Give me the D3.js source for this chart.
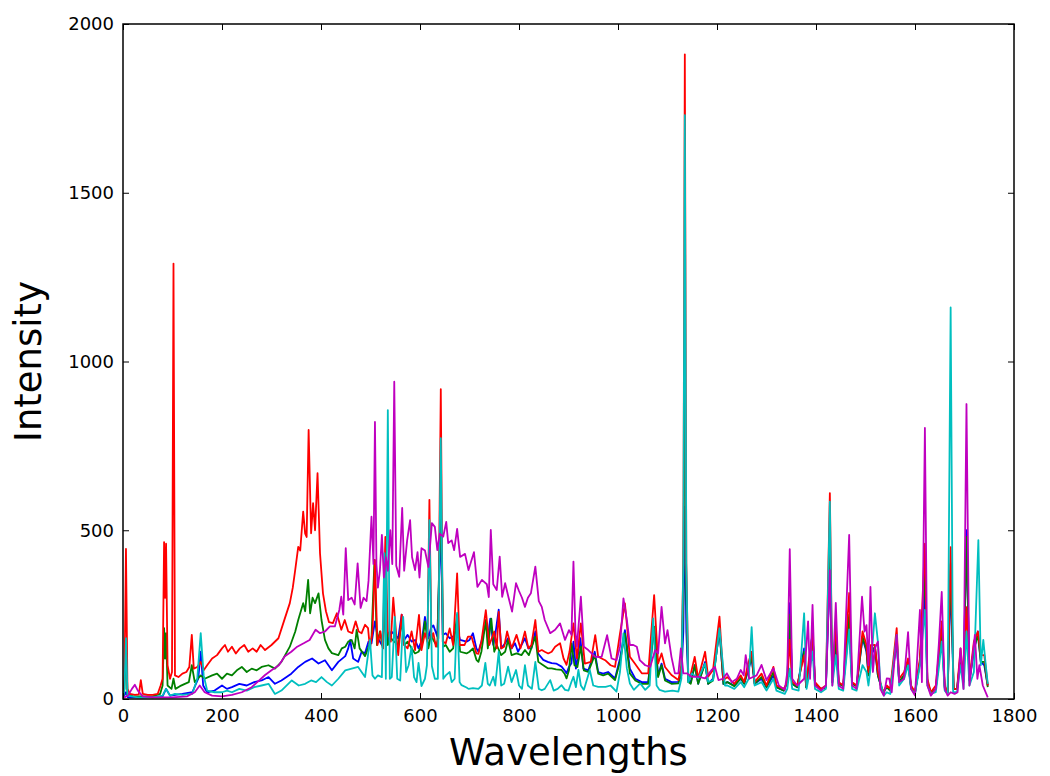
<!DOCTYPE html>
<html>
<head>
<meta charset="utf-8">
<script src="https://cdn.jsdelivr.net/npm/d3@7"></script>
<style>
  body { margin: 0; background: #fff; }
  text { font-family: "DejaVu Sans", sans-serif; }
</style>
</head>
<body>
<svg class="chart"></svg>
<script>
// tick values
var wavelengthTicks = [0, 200, 400, 600, 800, 1000, 1200, 1400, 1600, 1800];
var intensityTicks = [0, 500, 1000, 1500, 2000];

// spectra, [wavelength, intensity]
var blueSpectrum = [[0,3],[6,20],[10,5],[40,5],[80,8],[87,30],[95,10],[120,15],[140,20],[152,60],[157,140],[162,40],[170,20],[185,25],[200,40],[210,30],[220,35],[235,45],[250,40],[265,50],[280,55],[294,65],[307,45],[320,55],[340,75],[354,95],[368,110],[382,120],[395,105],[408,115],[422,85],[435,110],[449,127],[455,150],[459,175],[465,120],[475,110],[482,140],[489,136],[496,170],[502,165],[509,230],[515,180],[523,160],[530,250],[536,170],[542,200],[549,190],[556,180],[563,250],[568,175],[575,190],[583,170],[590,175],[597,150],[604,175],[610,243],[617,180],[622,210],[627,218],[635,185],[642,520],[646,190],[652,195],[660,180],[667,185],[675,210],[681,175],[694,170],[700,175],[707,195],[714,150],[718,140],[724,170],[733,224],[737,180],[742,238],[748,160],[752,190],[759,265],[764,150],[772,165],[778,180],[785,150],[792,165],[798,140],[805,160],[812,180],[819,150],[825,150],[833,200],[839,134],[849,116],[858,110],[866,106],[875,105],[886,96],[892,85],[896,76],[901,95],[906,106],[910,170],[915,90],[924,180],[930,90],[940,85],[953,140],[960,80],[970,75],[980,80],[994,61],[1004,120],[1014,204],[1024,90],[1035,60],[1048,50],[1061,50],[1073,214],[1081,70],[1088,105],[1095,60],[1108,50],[1122,51],[1128,70],[1132,200],[1135,570],[1138,200],[1142,55],[1147,50],[1155,100],[1162,45],[1176,110],[1182,45],[1192,60],[1205,205],[1213,45],[1221,50],[1235,40],[1248,60],[1255,45],[1262,80],[1270,120],[1276,45],[1290,60],[1300,35],[1314,70],[1320,35],[1335,25],[1342,50],[1347,284],[1352,45],[1362,35],[1376,150],[1380,35],[1386,100],[1393,200],[1398,45],[1410,30],[1420,35],[1428,380],[1433,50],[1440,170],[1446,45],[1455,40],[1467,220],[1473,45],[1482,40],[1494,180],[1502,140],[1506,70],[1511,130],[1519,150],[1525,70],[1535,20],[1543,35],[1550,25],[1563,170],[1568,50],[1578,70],[1586,110],[1592,35],[1600,20],[1610,110],[1620,320],[1625,50],[1632,20],[1642,30],[1648,110],[1654,200],[1660,35],[1666,20],[1672,350],[1678,30],[1685,30],[1692,120],[1698,50],[1704,500],[1710,55],[1719,140],[1727,200],[1733,110],[1740,100],[1747,40]];

var greenSpectrum = [[0,5],[3,30],[6,180],[9,15],[20,8],[40,8],[60,8],[75,15],[80,40],[83,210],[85,120],[87,195],[90,40],[98,30],[102,60],[106,30],[115,38],[125,45],[133,50],[139,100],[145,50],[157,70],[165,60],[180,70],[190,75],[200,60],[210,75],[220,70],[230,85],[240,95],[250,80],[260,90],[270,85],[280,95],[294,100],[307,90],[320,110],[337,155],[348,200],[354,234],[364,284],[368,260],[374,353],[378,254],[383,300],[388,284],[395,313],[401,234],[408,175],[415,150],[422,136],[435,130],[442,150],[449,155],[455,170],[462,175],[468,150],[472,205],[478,150],[489,127],[495,150],[502,180],[508,412],[513,160],[519,200],[525,150],[530,300],[535,160],[541,180],[548,170],[556,160],[563,230],[568,160],[575,170],[583,150],[590,135],[597,140],[604,160],[610,230],[617,150],[622,190],[627,175],[635,155],[642,600],[647,155],[652,160],[660,140],[667,150],[675,250],[681,140],[694,135],[700,140],[707,150],[714,116],[718,110],[724,140],[733,234],[737,150],[744,238],[750,140],[755,160],[764,130],[772,140],[778,175],[785,130],[795,135],[805,130],[812,145],[820,130],[833,185],[839,110],[849,100],[858,91],[866,91],[875,88],[886,86],[892,75],[896,61],[901,85],[906,165],[912,100],[918,95],[925,155],[931,85],[940,80],[953,130],[960,75],[970,70],[980,75],[994,56],[1004,110],[1014,194],[1024,76],[1035,55],[1048,45],[1061,45],[1073,214],[1081,65],[1088,100],[1095,55],[1108,45],[1122,46],[1128,80],[1132,300],[1135,1080],[1138,300],[1142,50],[1147,45],[1155,100],[1162,45],[1176,105],[1182,45],[1192,55],[1205,209],[1213,45],[1221,50],[1235,38],[1248,62],[1255,45],[1262,85],[1270,125],[1276,45],[1290,65],[1300,35],[1314,80],[1320,35],[1335,25],[1342,50],[1347,250],[1352,45],[1362,35],[1376,140],[1380,35],[1386,105],[1393,195],[1398,45],[1410,28],[1420,35],[1428,450],[1433,50],[1440,180],[1446,45],[1455,38],[1467,250],[1473,45],[1482,38],[1494,185],[1502,145],[1506,70],[1511,140],[1519,155],[1525,70],[1535,18],[1543,35],[1550,25],[1563,180],[1568,50],[1578,70],[1586,110],[1592,35],[1600,18],[1610,110],[1620,380],[1625,50],[1632,18],[1642,30],[1648,115],[1654,210],[1660,35],[1666,18],[1672,400],[1678,30],[1685,30],[1692,130],[1698,50],[1704,480],[1710,55],[1719,150],[1727,190],[1733,110],[1740,110],[1747,35]];

var redSpectrum = [[0,10],[3,60],[6,445],[9,30],[14,15],[24,12],[32,14],[36,56],[40,15],[50,12],[60,12],[70,15],[76,40],[80,60],[83,465],[85,300],[87,460],[90,100],[95,60],[99,80],[102,1290],[105,70],[112,65],[120,75],[128,80],[134,95],[139,190],[143,90],[150,95],[157,110],[163,85],[170,100],[180,120],[190,130],[200,150],[206,160],[212,140],[220,155],[228,135],[236,150],[245,160],[253,140],[262,150],[270,140],[278,160],[287,145],[300,160],[314,180],[325,230],[337,284],[343,330],[348,383],[354,451],[358,440],[364,555],[368,490],[371,480],[375,797],[380,491],[384,580],[388,500],[393,669],[398,432],[404,313],[410,260],[416,228],[424,225],[432,254],[441,205],[448,234],[455,200],[463,195],[470,230],[476,200],[482,195],[489,220],[495,210],[499,150],[504,200],[509,412],[514,160],[520,200],[525,150],[530,480],[535,200],[541,170],[546,300],[552,190],[556,130],[563,250],[568,160],[575,150],[583,200],[590,145],[598,249],[603,145],[610,195],[615,170],[619,590],[623,180],[627,195],[632,155],[637,180],[642,918],[646,170],[652,165],[660,209],[667,160],[675,372],[680,160],[690,160],[697,185],[704,185],[714,135],[718,134],[724,170],[733,263],[740,160],[750,200],[755,150],[759,258],[764,150],[770,155],[776,200],[785,150],[795,190],[803,150],[812,200],[819,150],[825,160],[833,234],[839,140],[846,145],[852,140],[859,135],[866,140],[873,155],[883,165],[890,120],[896,101],[902,140],[910,224],[917,120],[925,224],[933,105],[945,110],[954,189],[960,125],[974,115],[985,100],[994,95],[1004,194],[1014,283],[1024,125],[1034,105],[1048,76],[1061,76],[1073,308],[1081,105],[1088,135],[1095,95],[1108,71],[1122,56],[1128,100],[1132,400],[1135,1910],[1138,400],[1142,70],[1145,61],[1155,125],[1162,61],[1176,140],[1182,66],[1192,86],[1205,244],[1213,56],[1221,65],[1235,45],[1248,70],[1255,50],[1262,100],[1270,140],[1276,50],[1290,75],[1300,40],[1314,95],[1320,40],[1335,30],[1342,50],[1347,175],[1352,50],[1362,40],[1376,130],[1380,40],[1386,120],[1393,190],[1398,50],[1410,30],[1420,40],[1428,610],[1433,60],[1440,220],[1446,50],[1455,40],[1467,314],[1473,50],[1482,40],[1494,200],[1502,160],[1506,80],[1511,160],[1519,160],[1525,80],[1535,20],[1543,40],[1550,30],[1563,210],[1568,60],[1578,80],[1586,120],[1592,40],[1600,20],[1610,120],[1620,460],[1625,60],[1632,20],[1642,40],[1648,130],[1654,230],[1660,40],[1666,20],[1672,450],[1678,30],[1685,30],[1692,150],[1698,60],[1704,272],[1710,60],[1719,170],[1727,200],[1733,130],[1740,130],[1747,40]];

var cyanSpectrum = [[0,3],[3,30],[6,180],[9,10],[30,5],[60,5],[80,10],[87,30],[95,10],[105,15],[120,12],[140,15],[150,60],[157,195],[163,70],[170,25],[185,20],[200,20],[210,25],[220,20],[235,30],[250,25],[265,35],[280,40],[294,45],[307,15],[320,25],[341,55],[355,40],[368,45],[380,55],[390,50],[401,65],[412,50],[422,40],[435,60],[449,85],[462,90],[475,95],[489,65],[499,175],[504,70],[509,60],[515,70],[523,65],[528,432],[531,60],[535,856],[539,60],[543,65],[549,243],[554,60],[560,55],[566,243],[572,80],[577,100],[583,155],[588,65],[593,50],[597,107],[603,38],[610,60],[614,100],[619,530],[624,98],[630,60],[636,60],[642,773],[647,60],[652,70],[660,80],[664,50],[670,60],[675,255],[680,50],[684,41],[694,34],[698,30],[707,32],[718,30],[725,40],[732,107],[737,45],[741,40],[748,66],[752,40],[759,140],[764,40],[770,45],[778,96],[785,50],[794,86],[800,40],[806,30],[812,100],[818,40],[826,30],[833,110],[840,30],[846,26],[852,30],[863,56],[870,25],[878,30],[886,41],[893,27],[900,25],[906,51],[910,66],[915,35],[920,86],[925,40],[931,27],[943,86],[950,40],[960,36],[975,36],[985,40],[997,22],[1004,80],[1011,194],[1018,90],[1024,46],[1032,27],[1045,46],[1055,27],[1064,40],[1071,239],[1078,40],[1084,27],[1095,22],[1110,25],[1122,22],[1128,60],[1132,400],[1135,1730],[1138,400],[1142,50],[1149,76],[1162,61],[1176,105],[1182,51],[1192,55],[1205,209],[1216,40],[1221,40],[1235,30],[1248,50],[1255,35],[1264,60],[1270,213],[1276,40],[1290,50],[1300,25],[1314,60],[1320,25],[1337,15],[1342,30],[1347,90],[1352,30],[1365,25],[1376,254],[1381,30],[1386,70],[1393,140],[1398,30],[1410,20],[1420,30],[1428,585],[1433,40],[1440,130],[1446,30],[1455,25],[1467,206],[1473,30],[1482,25],[1494,100],[1502,80],[1506,40],[1511,100],[1519,254],[1525,170],[1530,50],[1537,10],[1543,20],[1550,15],[1563,190],[1568,40],[1578,60],[1586,100],[1592,30],[1600,15],[1610,100],[1620,264],[1625,40],[1632,15],[1642,20],[1648,90],[1654,170],[1660,25],[1666,15],[1672,1160],[1677,20],[1685,20],[1692,100],[1698,30],[1704,200],[1710,40],[1719,80],[1728,471],[1733,100],[1738,175],[1743,100],[1747,45]];

var magentaSpectrum = [[0,3],[10,10],[18,30],[24,42],[30,25],[40,8],[60,5],[100,5],[130,8],[145,20],[155,40],[165,20],[180,10],[200,8],[220,12],[240,20],[260,35],[287,71],[300,85],[315,100],[327,127],[340,140],[352,155],[365,165],[377,175],[389,205],[398,195],[408,200],[418,215],[428,215],[437,264],[441,303],[445,250],[450,447],[455,293],[462,300],[468,280],[474,402],[480,270],[486,300],[492,290],[496,350],[502,540],[506,400],[509,821],[512,400],[515,330],[519,380],[523,486],[527,360],[531,420],[535,380],[540,500],[544,400],[548,940],[552,395],[558,362],[564,566],[568,380],[574,470],[580,530],[584,420],[590,382],[595,435],[599,360],[603,447],[610,440],[617,391],[624,521],[630,510],[635,441],[640,490],[647,481],[653,525],[657,462],[664,470],[669,441],[675,504],[681,421],[691,430],[698,382],[709,435],[716,332],[725,353],[735,340],[739,302],[743,501],[748,340],[755,323],[761,422],[766,303],[772,343],[779,300],[786,259],[794,343],[800,320],[806,300],[812,273],[818,300],[824,313],[833,392],[840,290],[846,273],[852,234],[863,195],[873,205],[883,224],[893,175],[901,204],[906,190],[910,407],[914,200],[917,155],[925,303],[931,155],[940,145],[954,125],[967,125],[978,189],[987,120],[997,115],[1004,155],[1011,298],[1018,234],[1024,160],[1031,160],[1038,155],[1044,115],[1055,100],[1065,95],[1075,145],[1081,135],[1088,273],[1095,165],[1100,204],[1108,125],[1115,76],[1122,76],[1127,150],[1132,76],[1139,76],[1149,66],[1162,66],[1176,61],[1189,86],[1196,95],[1203,56],[1212,60],[1220,76],[1230,50],[1240,60],[1248,86],[1254,70],[1258,130],[1265,60],[1280,70],[1290,101],[1300,56],[1314,91],[1325,40],[1337,27],[1342,80],[1347,444],[1352,60],[1362,40],[1376,60],[1384,230],[1388,60],[1393,279],[1398,40],[1410,25],[1420,40],[1428,382],[1433,40],[1440,285],[1446,40],[1455,30],[1467,486],[1473,40],[1482,30],[1493,303],[1498,200],[1502,219],[1506,100],[1510,332],[1515,80],[1519,150],[1525,170],[1530,30],[1537,10],[1543,61],[1548,60],[1553,20],[1563,190],[1568,50],[1578,60],[1586,198],[1592,30],[1600,10],[1610,264],[1614,50],[1620,803],[1625,40],[1632,10],[1642,30],[1648,160],[1654,317],[1660,30],[1666,10],[1672,20],[1680,15],[1686,20],[1692,150],[1698,30],[1704,874],[1710,40],[1721,190],[1726,60],[1730,100],[1737,40],[1747,5]];

var seriesList = [blueSpectrum, greenSpectrum, redSpectrum, cyanSpectrum, magentaSpectrum];
var seriesColors = ["#0000ff", "#008000", "#ff0000", "#00bfbf", "#bf00bf"];

function show() {
    'use strict';
    var margin = {top: 24, bottom: 77, right: 36, left: 123},
        width = 1050 - margin.left - margin.right,
        height = 776 - margin.top - margin.bottom;

    var svg = d3.select(".chart")
        .attr("width", width + margin.left + margin.right)
        .attr("height", height + margin.top + margin.bottom)
        .append("g")
        .attr("transform", "translate(" + margin.left + "," + margin.top + ")");

    var x = d3.scaleLinear().domain([0, 1800]).range([0, width]);
    var y = d3.scaleLinear().domain([0, 2000]).range([height, 0]);

    svg.append("clipPath").attr("id", "plotclip")
        .append("rect").attr("width", width).attr("height", height);

    var line = d3.line()
        .x(function(d) { return x(d[0]); })
        .y(function(d) { return y(d[1]); });

    // lines in matplotlib order b, g, r, c, m
    svg.append("g").attr("clip-path", "url(#plotclip)")
        .selectAll("path").data(seriesList).enter()
        .append("path")
        .attr("d", line)
        .attr("fill", "none")
        .attr("stroke", function(d, i) { return seriesColors[i]; })
        .attr("stroke-width", 1.8)
        .attr("stroke-linejoin", "round");

    // axes with inward ticks on all four sides
    function styleAxis(g) {
        g.select(".domain").remove();
        g.selectAll(".tick line").attr("stroke", "#000").attr("stroke-width", 1);
        g.selectAll("text").attr("fill", "#000").style("font-size", "18px")
            .style("font-family", "'DejaVu Sans', sans-serif");
    }

    svg.append("g").attr("transform", "translate(0," + height + ")")
        .call(d3.axisBottom(x).tickValues(wavelengthTicks).tickFormat(d3.format("d"))
            .tickSizeInner(-6).tickSizeOuter(0).tickPadding(10))
        .call(styleAxis);
    svg.append("g")
        .call(d3.axisTop(x).tickValues(wavelengthTicks).tickFormat("")
            .tickSizeInner(-6).tickSizeOuter(0))
        .call(styleAxis);
    svg.append("g")
        .call(d3.axisLeft(y).tickValues(intensityTicks).tickFormat(d3.format("d"))
            .tickSizeInner(-6).tickSizeOuter(0).tickPadding(9))
        .call(styleAxis);
    svg.append("g").attr("transform", "translate(" + width + ",0)")
        .call(d3.axisRight(y).tickValues(intensityTicks).tickFormat("")
            .tickSizeInner(-6).tickSizeOuter(0))
        .call(styleAxis);

    svg.append("rect").attr("x", 0).attr("y", 0)
        .attr("width", width).attr("height", height)
        .attr("fill", "none").attr("stroke", "#000").attr("stroke-width", 1.5);

    svg.append("text")
        .attr("x", width / 2).attr("y", height + 66)
        .attr("text-anchor", "middle")
        .style("font-size", "37px")
        .text("Wavelengths");

    svg.append("text")
        .attr("transform", "translate(" + (-82) + "," + (height / 2) + ") rotate(-90)")
        .attr("text-anchor", "middle")
        .style("font-size", "37px")
        .text("Intensity");
}

show();
</script>
</body>
</html>
